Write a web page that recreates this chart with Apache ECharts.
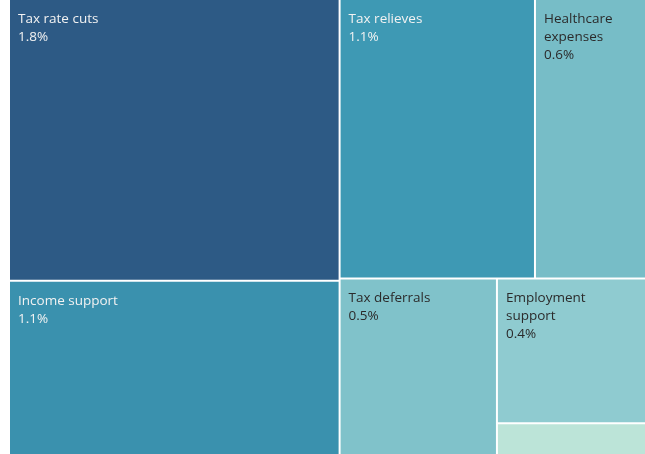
<!DOCTYPE html>
<html>
<head>
<meta charset="utf-8">
<script src="https://cdn.jsdelivr.net/npm/echarts@6/dist/echarts.min.js"></script>
<style>html,body{margin:0;padding:0;background:#fff;}#c{width:645px;height:454px;}</style>
</head>
<body>
<div id="c"></div>
<script>
const categories = ['Tax rate cuts', 'Income support', 'Tax relieves', 'Healthcare expenses', 'Tax deferrals', 'Employment support', 'Other'];
const labelNames = ['Tax rate cuts', 'Income support', 'Tax relieves', 'Healthcare\nexpenses', 'Tax deferrals', 'Employment\nsupport', ''];
const values = [1.8, 1.12, 1.055, 0.605, 0.54, 0.42, 0.095];
const colors = ['#2d5a85', '#3a91ae', '#3e99b4', '#77bdc7', '#80c2ca', '#8fcbd0', '#bce4d8'];
const textColors = ['#f2f2f2', '#f2f2f2', '#f2f2f2', '#2b2b2b', '#2b2b2b', '#2b2b2b', '#2b2b2b'];
const showLabel = [true, true, true, true, true, true, false];

const data = categories.map((name, i) => ({
  name: name,
  value: values[i],
  itemStyle: { color: colors[i] },
  label: {
    show: showLabel[i],
    color: textColors[i],
    formatter: labelNames[i] + '\n' + values[i].toFixed(1) + '%'
  }
}));

const chart = echarts.init(document.getElementById('c'), null, { renderer: 'canvas' });
chart.setOption({
  animation: false,
  series: [{
    type: 'treemap',
    left: 10,
    top: 0,
    width: 636,
    height: 455,
    roam: false,
    nodeClick: false,
    breadcrumb: { show: false },
    squareRatio: 0.5 * (1 + Math.sqrt(5)),
    itemStyle: { borderWidth: 0, gapWidth: 2, borderColor: '#fff' },
    label: {
      show: true,
      position: 'insideTopLeft',
      fontFamily: 'Open Sans',
      fontSize: 13.5,
      lineHeight: 18,
      padding: [10, 0, 0, 8],
      overflow: 'none'
    },
    upperLabel: { show: false },
    data: data
  }]
});
</script>
</body>
</html>
